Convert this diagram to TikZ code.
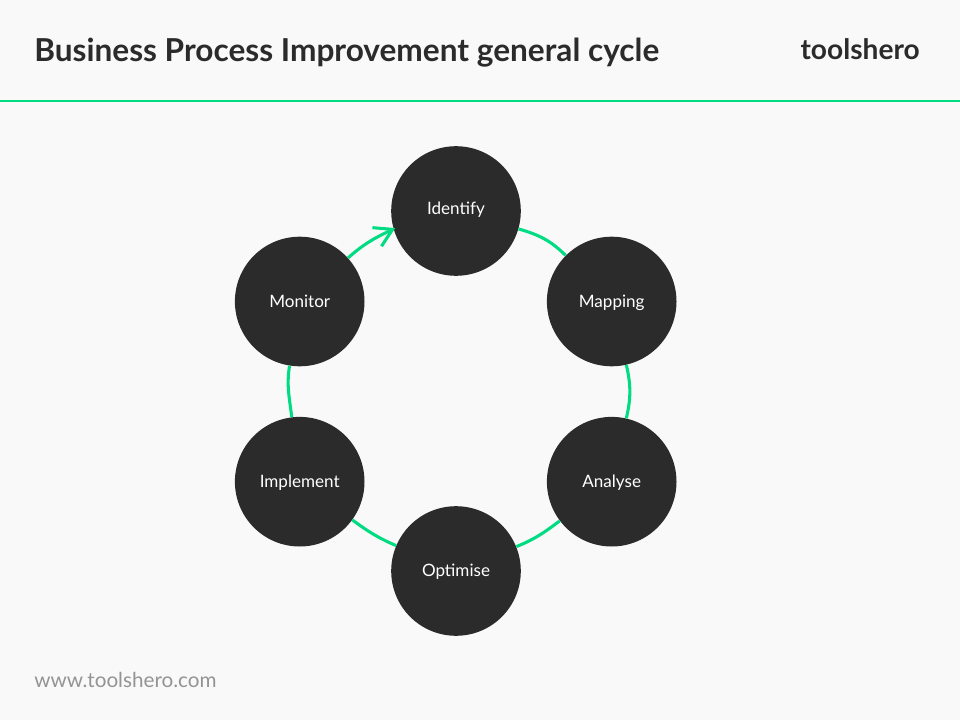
\documentclass[tikz,border=0pt]{standalone}
\usepackage{fontspec}
\setmainfont{Lato}
\usetikzlibrary{arrows.meta}
\definecolor{bg}{HTML}{F9F9F9}
\definecolor{ink}{HTML}{2B2B2B}
\definecolor{grn}{HTML}{00DC82}
\tikzset{
  stage/.style={circle,fill=ink,draw=none,minimum size=97.2pt,inner sep=0pt,text=white,text height=12.2pt,text depth=3.6pt,font=\fontsize{12.8}{15}\selectfont},
  ring/.style={draw=grn,line width=2.3pt},
  headtext/.style={text=ink,inner sep=0pt,anchor=base west}
}
\begin{document}
\begin{tikzpicture}[x=0.75pt,y=-0.75pt]
\useasboundingbox (0,0) rectangle (960,720);
\fill[bg] (0,0) rectangle (960,720);
\coordinate (ruleL) at (0,101);
\coordinate (ruleR) at (960,101);
\draw[grn,line width=1.5pt] (ruleL) -- (ruleR);
\node[headtext,font=\fontsize{23.7}{28}\selectfont\bfseries] (title) at (34,62) {Business Process Improvement general cycle};
\node[headtext,font=\fontsize{21.1}{25}\selectfont\bfseries,anchor=base east] (brand) at (920,59.5) {toolshero};
\node[headtext,font=\fontsize{15.5}{18}\selectfont,text=black!42] (url) at (34,687) {www.toolshero.com};
\node[stage] (identify) at (456,211) {\raisebox{1.4pt}{Identify}};
\node[stage] (mapping) at (611.7,301.5) {Mapping};
\node[stage] (analyse) at (611.7,481.7) {Analyse};
\node[stage] (optimise) at (456,571) {Optimise};
\node[stage] (implement) at (299.7,481.7) {Implement};
\node[stage] (monitor) at (299.7,301.5) {Monitor};
\draw[ring] (identify) to[out=-16,in=135] (mapping);
\draw[ring] (mapping) to[out=-77,in=77] (analyse);
\draw[ring] (analyse) to[out=-143,in=22] (optimise);
\draw[ring] (optimise) to[out=157,in=-36] (implement);
\draw[ring] (implement) to[out=97,in=261] (monitor);
\draw[ring,shorten >=-1.5pt,-{Straight Barb[length=13pt,width=15.5pt,line width=2.3pt]}] (monitor.42) to[out=42,in=206] (identify.196);
\end{tikzpicture}
\end{document}
